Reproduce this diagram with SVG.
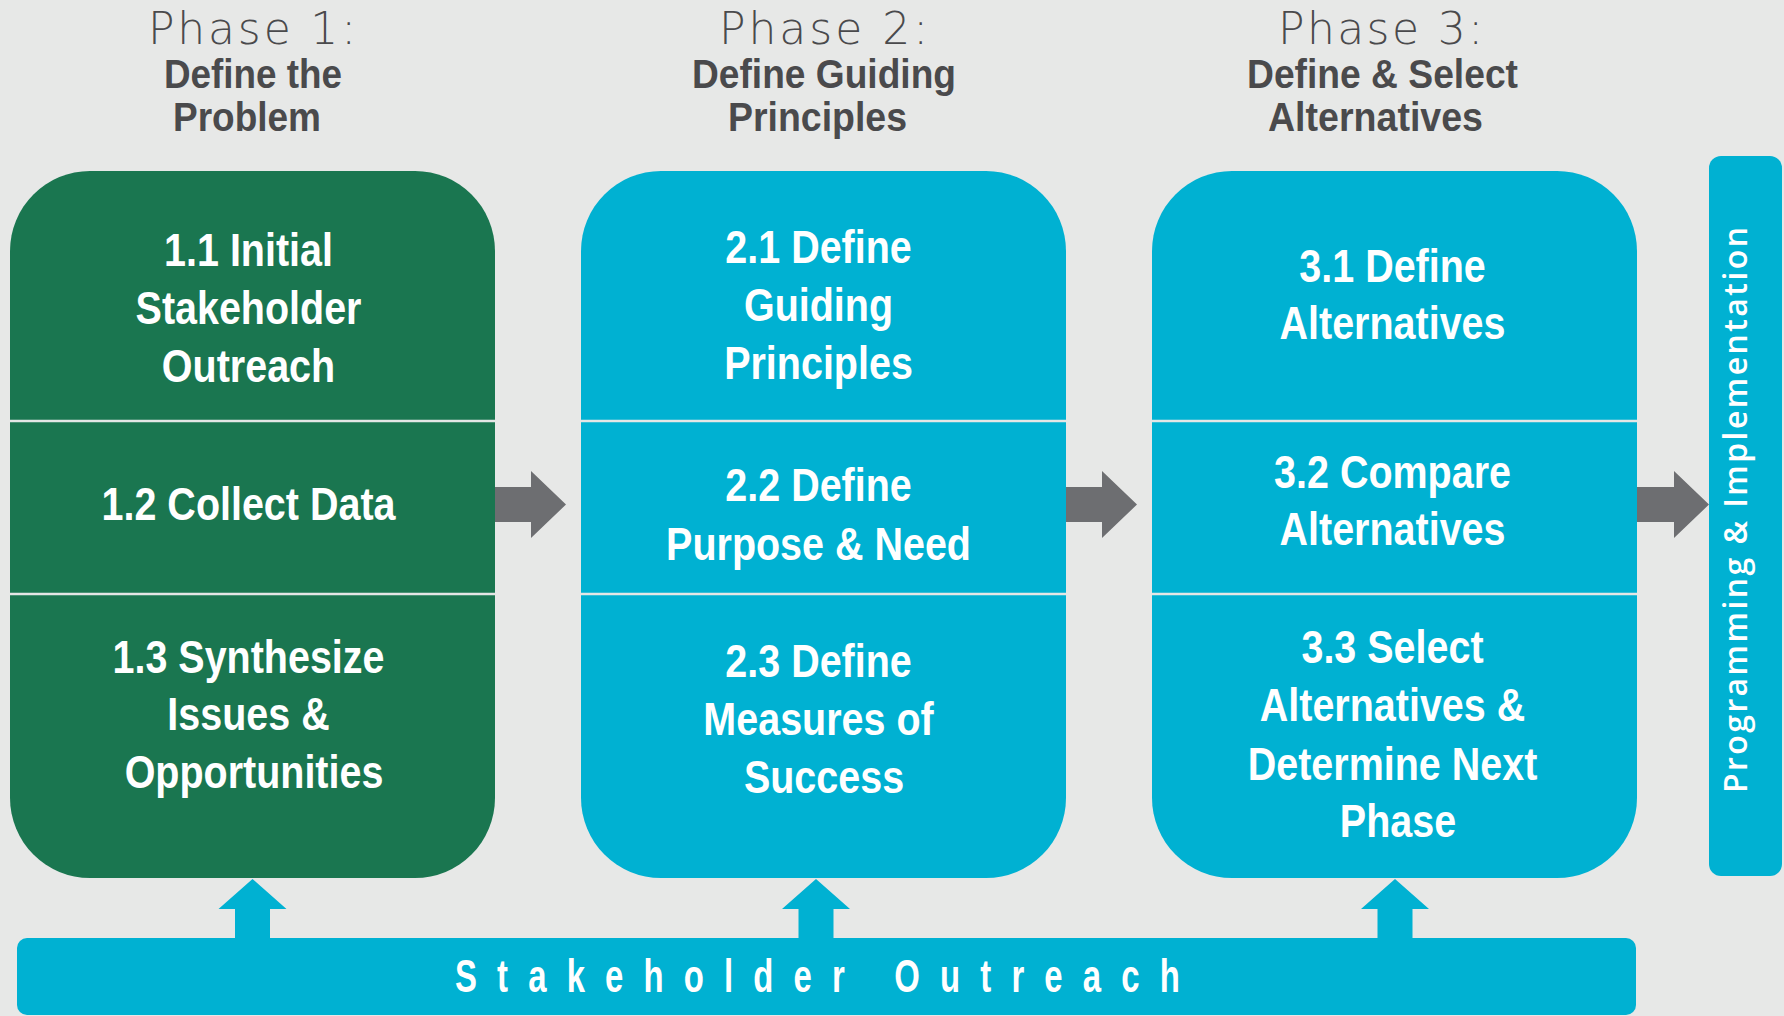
<svg xmlns="http://www.w3.org/2000/svg" width="1784" height="1016" viewBox="0 0 1784 1016">
<style>
.ph{font-family:"DejaVu Sans","Open Sans",sans-serif;font-weight:200;font-size:44px;fill:#4a4a4c;text-anchor:middle}
.tt{font-family:"Liberation Sans",Arial,sans-serif;font-weight:700;font-size:40px;fill:#4a4a4c;text-anchor:middle}
.bx{font-family:"Liberation Sans",Arial,sans-serif;font-weight:700;font-size:47px;fill:#ffffff;text-anchor:middle}
.div{stroke:#e4e6e5;stroke-width:2.5}
.green{fill:#1a7650}
.blue{fill:#00b1d2}
.garrow{fill:#6d6e71}
.barrow{fill:#00b1d2}
.vt{font-family:"Open Sans","DejaVu Sans",sans-serif;font-weight:600;font-size:32px;fill:#ffffff;text-anchor:middle}
.so{font-family:"Liberation Sans",Arial,sans-serif;font-weight:700;font-size:47px;fill:#ffffff}
</style>
<rect width="1784" height="1016" fill="#e7e8e7"/>

<g id="phase1">
<text class="ph" x="252" y="44" textLength="208" lengthAdjust="spacing">Phase 1:</text>
<text class="tt" x="253" y="88" textLength="178" lengthAdjust="spacingAndGlyphs">Define the</text>
<text class="tt" x="247" y="131" textLength="148" lengthAdjust="spacingAndGlyphs">Problem</text>
<rect class="green" x="10" y="171" width="485" height="707" rx="80"/>
<line class="div" x1="10" y1="421" x2="495" y2="421"/>
<line class="div" x1="10" y1="594" x2="495" y2="594"/>
<text class="bx" transform="translate(254 0) scale(0.84 1)">
<tspan x="0" y="266">1.1 Initial</tspan>
<tspan x="0" y="324">Stakeholder</tspan>
<tspan x="0" y="382">Outreach</tspan>
<tspan x="0" y="520">1.2 Collect Data</tspan>
<tspan x="0" y="673">1.3 Synthesize</tspan>
<tspan x="0" y="730">Issues &amp;</tspan>
<tspan x="0" y="788">Opportunities</tspan>
</text>
</g>

<g id="phase2">
<text class="ph" x="823.5" y="44" textLength="209" lengthAdjust="spacing">Phase 2:</text>
<text class="tt" x="824" y="88" textLength="264" lengthAdjust="spacingAndGlyphs">Define Guiding</text>
<text class="tt" x="817.5" y="131" textLength="179" lengthAdjust="spacingAndGlyphs">Principles</text>
<rect class="blue" x="581" y="171" width="485" height="707" rx="80"/>
<line class="div" x1="581" y1="421" x2="1066" y2="421"/>
<line class="div" x1="581" y1="594" x2="1066" y2="594"/>
<text class="bx" transform="translate(824 0) scale(0.84 1)">
<tspan x="0" y="263">2.1 Define</tspan>
<tspan x="0" y="321">Guiding</tspan>
<tspan x="0" y="379">Principles</tspan>
<tspan x="0" y="501">2.2 Define</tspan>
<tspan x="0" y="560">Purpose &amp; Need</tspan>
<tspan x="0" y="677">2.3 Define</tspan>
<tspan x="0" y="735">Measures of</tspan>
<tspan x="0" y="793">Success</tspan>
</text>
</g>

<g id="phase3">
<text class="ph" x="1380.5" y="44" textLength="205" lengthAdjust="spacing">Phase 3:</text>
<text class="tt" x="1382.5" y="88" textLength="271" lengthAdjust="spacingAndGlyphs">Define &amp; Select</text>
<text class="tt" x="1375.5" y="131" textLength="215" lengthAdjust="spacingAndGlyphs">Alternatives</text>
<rect class="blue" x="1152" y="171" width="485" height="707" rx="80"/>
<line class="div" x1="1152" y1="421" x2="1637" y2="421"/>
<line class="div" x1="1152" y1="594" x2="1637" y2="594"/>
<text class="bx" transform="translate(1398 0) scale(0.84 1)">
<tspan x="0" y="282">3.1 Define</tspan>
<tspan x="0" y="339">Alternatives</tspan>
<tspan x="0" y="488">3.2 Compare</tspan>
<tspan x="0" y="545">Alternatives</tspan>
<tspan x="0" y="663">3.3 Select</tspan>
<tspan x="0" y="721">Alternatives &amp;</tspan>
<tspan x="0" y="780">Determine Next</tspan>
<tspan x="0" y="837">Phase</tspan>
</text>
</g>

<g id="implementation">
<rect class="blue" x="1709" y="156" width="73" height="720" rx="12"/>
<text class="vt" transform="translate(1747 510) rotate(-90)" x="0" y="0" textLength="566" lengthAdjust="spacing">Programming &amp; Implementation</text>
</g>

<g id="outreach">
<rect class="blue" x="17" y="938" width="1619" height="77" rx="10"/>
<text class="so" transform="translate(455 992) scale(0.7 1)" letter-spacing="28.8" x="0" y="0">Stakeholder Outreach</text>
</g>

<g id="connectors">
<polygon class="garrow" points="495,487 531,487 531,471 566,504.5 531,538 531,522 495,522"/>
<polygon class="garrow" points="1066,487 1102,487 1102,471 1137,504.5 1102,538 1102,522 1066,522"/>
<polygon class="garrow" points="1637,487 1674,487 1674,471 1709,504.5 1674,538 1674,522 1637,522"/>
<polygon class="barrow" points="235,940 235,909 218.5,909 252.5,879 286.5,909 270,909 270,940"/>
<polygon class="barrow" points="798.5,940 798.5,909 782,909 816,879 850,909 833.5,909 833.5,940"/>
<polygon class="barrow" points="1377.5,940 1377.5,909 1361,909 1395,879 1429,909 1412.5,909 1412.5,940"/>
</g>
</svg>
